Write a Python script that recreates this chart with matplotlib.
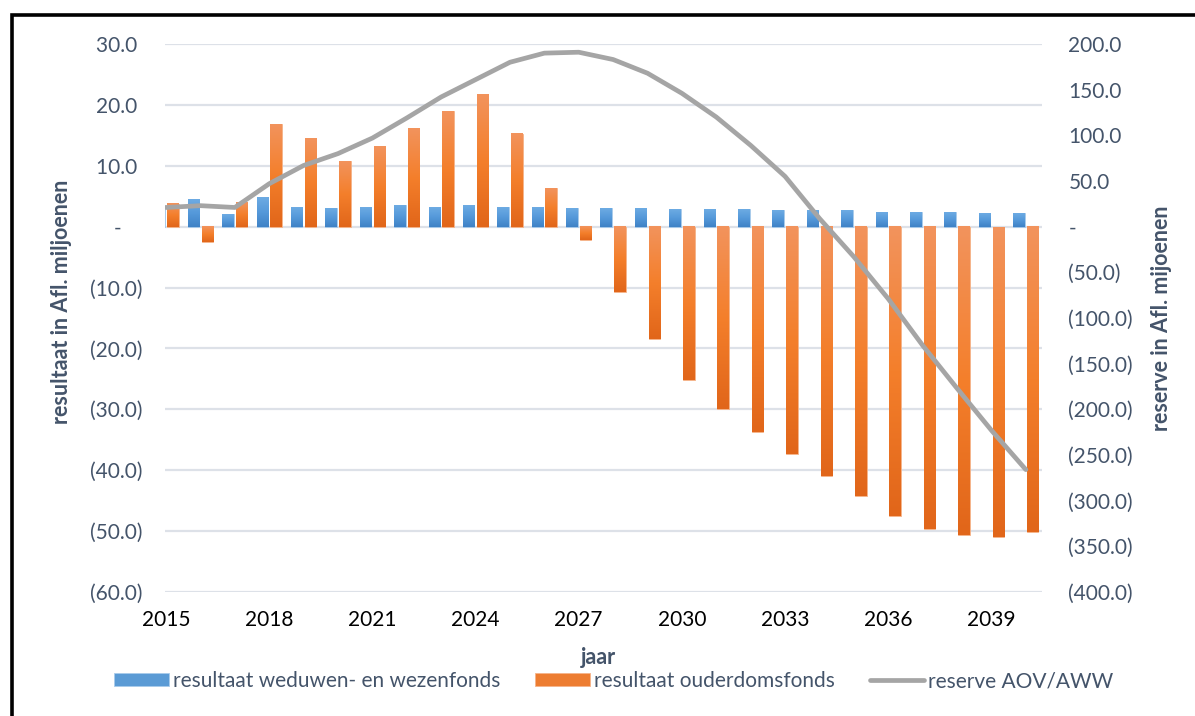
import numpy as np
import matplotlib
matplotlib.use('Agg')
import matplotlib.pyplot as plt
from matplotlib.colors import LinearSegmentedColormap
from matplotlib.patches import Rectangle

plt.rcParams['font.family'] = ['Lato', 'DejaVu Sans']

years = np.arange(2015, 2041)
# resultaat weduwen- en wezenfonds (Afl. mln), 2015 bar falls outside the plot area
weduwen = [3.5, 4.5, 2.0, 4.9, 3.2, 3.1, 3.2, 3.5, 3.2, 3.5, 3.2, 3.2, 3.0,
           3.0, 3.0, 2.85, 2.85, 2.85, 2.7, 2.7, 2.7, 2.4, 2.4, 2.4, 2.25, 2.25]
# resultaat ouderdomsfonds (Afl. mln)
ouderdom = [3.8, -2.5, 4.0, 16.8, 14.5, 10.8, 13.3, 16.2, 19.0, 21.7, 15.3, 6.3, -2.2,
            -10.7, -18.4, -25.2, -30.0, -33.8, -37.4, -40.9, -44.2, -47.6, -49.7, -50.7, -50.9, -50.1]
# reserve AOV/AWW (Afl. mln), right axis
reserve = [21, 23, 21, 47, 67, 80, 97, 119, 142, 161, 180, 190, 191,
           183, 168, 146, 120, 89, 55, 9, -33, -79, -130, -177, -223, -266]
xticks = np.arange(2015, 2040, 3)

txt_col = '#44546A'
fs = 15

fig = plt.figure(figsize=(11.95, 7.16), dpi=100)
ax = fig.add_axes([165/1195, 1-592/716, 877/1195, 548/716])
ax2 = ax.twinx()

w = 0.335
b1 = ax.bar(years - 0.2, weduwen, width=w, color='#5B9BD5', edgecolor='#A9CBEB', linewidth=0.6, zorder=2)
b2 = ax.bar(years + 0.2, ouderdom, width=w, color='#ED7D31', edgecolor='#F6B48A', linewidth=0.6, zorder=2)


def shade(bars, cols):
    cmap = LinearSegmentedColormap.from_list('g', cols)
    grad = np.linspace(0, 1, 64).reshape(-1, 1)
    for b in bars:
        x0, y0 = b.get_x(), b.get_y()
        x1, y1 = x0 + b.get_width(), y0 + b.get_height()
        ax.imshow(grad, cmap=cmap, aspect='auto', origin='upper', zorder=2.1,
                  extent=[x0, x1, min(y0, y1), max(y0, y1)], interpolation='bilinear')


shade(b1, ['#6DABE3', '#5599DA', '#3F82C6'])
shade(b2, ['#F2935C', '#F47F2B', '#E1661A'])

ln, = ax2.plot(years, reserve, color='#A5A5A5', lw=3.4, solid_capstyle='round', solid_joinstyle='round')

ax.set_xlim(2014.97, 2040.47)
ax.set_ylim(-60, 30)
ax2.set_ylim(-400, 200)
ax.set_yticks(np.arange(-60, 31, 10))
ax2.set_yticks(np.arange(-400, 201, 50))
ax.set_xticks(xticks)
ax.set_xticklabels([str(y) for y in xticks])


def lfmt(v):
    if abs(v) < 1e-9:
        return '-    '
    if v < 0:
        return '(%.1f)' % abs(v)
    return '%.1f ' % v


def rfmt(v):
    if abs(v) < 1e-9:
        return '-'
    if v < 0:
        return '(%.1f)' % abs(v)
    return '%.1f' % v


ax.set_yticklabels([lfmt(v) for v in ax.get_yticks()])
ax2.set_yticklabels([rfmt(v) for v in ax2.get_yticks()])

ax.grid(axis='y', color='#DDE1E8', lw=1.6, zorder=0)
ax.set_axisbelow(True)
for a in (ax, ax2):
    for s in a.spines.values():
        s.set_visible(False)
ax.tick_params(axis='y', length=0, pad=16, labelsize=fs, labelcolor=txt_col)
ax.tick_params(axis='x', length=0, pad=13, labelsize=fs, labelcolor='#000000')
ax2.tick_params(axis='y', length=0, pad=19, labelsize=fs, labelcolor=txt_col)

ax.set_ylabel('resultaat in Afl. miljoenen', fontsize=15.5, fontweight='bold', color=txt_col)
ax.yaxis.set_label_coords(-0.106, 0.53)
ax2.set_ylabel('reserve in Afl. mijoenen', fontsize=15.5, fontweight='bold', color=txt_col, rotation=90)
ax2.yaxis.set_label_coords(1.124, 0.5)
ax.set_xlabel('jaar', fontsize=15.5, fontweight='bold', color=txt_col)
ax.xaxis.set_label_coords(0.4937, -0.1)

leg = fig.legend([b1, b2, ln], ['resultaat weduwen- en wezenfonds', 'resultaat ouderdomsfonds', 'reserve AOV/AWW'],
                 loc='center', bbox_to_anchor=(614/1195, 1-681/716), ncol=3, frameon=False,
                 fontsize=fs, handlelength=2.6, handleheight=0.6, handletextpad=0.2, columnspacing=1.7)
for t in leg.get_texts():
    t.set_color(txt_col)

# black frame around the chart (left and top edges visible)
fig.patches.append(Rectangle((11.5/1195, -0.1), 1.2, 1.1 - 15.5/716, transform=fig.transFigure,
                             fill=False, edgecolor='black', lw=2.6))

fig.savefig('out.png', dpi=100)
